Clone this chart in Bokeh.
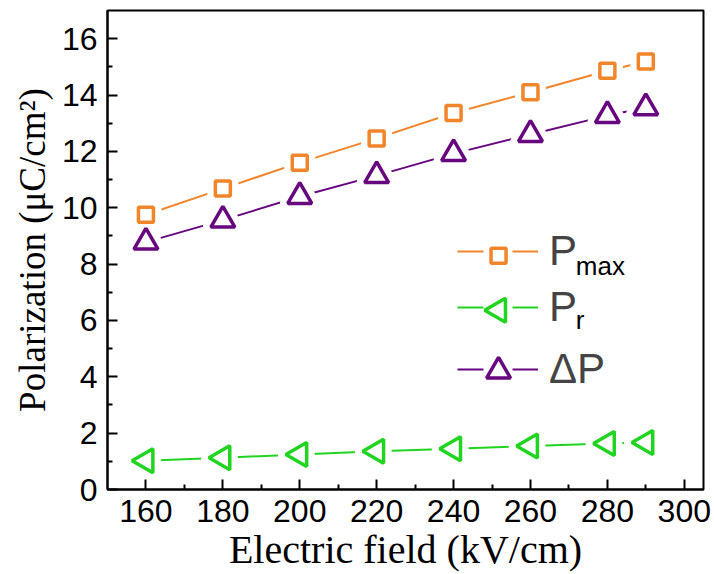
import numpy as np
from bokeh.plotting import figure
from bokeh.models import Legend, LegendItem, Label, FixedTicker, Range1d, ColumnDataSource
from bokeh.embed import file_html
from bokeh.resources import INLINE

# ---- data ----
field = [160, 180, 200, 220, 240, 260, 280, 290]
p_max = [9.75, 10.68, 11.60, 12.46, 13.36, 14.10, 14.86, 15.19]
p_r = [1.02, 1.13, 1.24, 1.36, 1.45, 1.54, 1.63, 1.67]
delta_p = [8.78, 9.56, 10.40, 11.14, 11.92, 12.60, 13.27, 13.55]

x_ticks = [160, 180, 200, 220, 240, 260, 280, 300]
x_minor = [170, 190, 210, 230, 250, 270, 290]
y_ticks = [0, 2, 4, 6, 8, 10, 12, 14, 16]
y_minor = [1, 3, 5, 7, 9, 11, 13, 15]

ORANGE = "#F0852A"
GREEN = "#20D420"
PURPLE = "#67067F"

SANS = "Liberation Sans"
SERIF = "Liberation Serif"

p = figure(width=714, height=574, x_range=Range1d(150, 305), y_range=Range1d(0, 17),
           output_backend="svg", toolbar_location=None,
           min_border_left=107, min_border_right=11, min_border_top=10, min_border_bottom=85)
p.grid.visible = False
p.outline_line_color = "black"
p.outline_line_width = 2
p.background_fill_color = "white"
p.border_fill_color = "white"

p.xaxis.ticker = FixedTicker(ticks=x_ticks, minor_ticks=x_minor)
p.yaxis.ticker = FixedTicker(ticks=y_ticks, minor_ticks=y_minor)
for ax in (p.xaxis, p.yaxis):
    ax.axis_line_width = 2
    ax.major_tick_in = 10
    ax.major_tick_out = 0
    ax.minor_tick_in = 5
    ax.minor_tick_out = 0
    ax.major_tick_line_width = 2
    ax.minor_tick_line_width = 2
    ax.major_label_text_font = SANS
    ax.major_label_text_font_size = "32px"
    ax.major_label_text_color = "black"
    ax.axis_label_text_font = SERIF
    ax.axis_label_text_font_style = "normal"
    ax.axis_label_text_color = "black"

p.xaxis.axis_label = "Electric field (kV/cm)"
p.xaxis.axis_label_text_font_size = "40px"
p.xaxis.major_label_standoff = 10
p.xaxis.axis_label_standoff = 2

p.yaxis.axis_label = "Polarization (\u03bcC/cm\u00b2)"
p.yaxis.axis_label_text_font_size = "37px"
p.yaxis.major_label_standoff = 10
p.yaxis.axis_label_standoff = 6

src = ColumnDataSource(dict(x=field, pmax=p_max, pr=p_r, dp=delta_p))

# key, colour, marker, size, rotation
series = [
    ("pmax", ORANGE, "square", 15, 0.0),
    ("pr", GREEN, "triangle", 24, np.pi / 2),
    ("dp", PURPLE, "triangle", 24, 0.0),
]

for key, col, mk, sz, ang in series:
    p.line("x", key, source=src, line_color=col, line_width=2)
for key, col, mk, sz, ang in series:
    p.scatter("x", key, source=src, marker=mk, size=sz, angle=ang,
              fill_color="white", line_color="white", line_width=16, line_join="round")
for key, col, mk, sz, ang in series:
    p.scatter("x", key, source=src, marker=mk, size=sz, angle=ang,
              fill_color="white", line_color=col, line_width=3.5)

# ---- legend: Bokeh legends (broken key line + label), symbols overlaid on the key ----
legend_rows = [
    # key, label, legend bottom offset (px from frame bottom), symbol y (data), subscript
    ("pmax", "P", 214, 8.30, "max"),
    ("pr", "P", 158, 6.36, "r"),
    ("dp", "\u0394P", 96, 4.20, None),
]
KEY_X = 251.7
SUB_X = 271.8
for (key, lab, ybot, sym_y, sub), (_, col, mk, sz, ang) in zip(legend_rows, series):
    key_src = ColumnDataSource(dict(x=[np.nan, np.nan], y=[np.nan, np.nan]))
    key_line = p.line("x", "y", source=key_src, line_color=col, line_width=2,
                      line_dash="26 29 26 200")
    lg = Legend(items=[LegendItem(label=lab, renderers=[key_line])],
                location=(350, ybot), glyph_width=81, glyph_height=44,
                label_text_font=SANS, label_text_font_size="42px", label_standoff=11,
                padding=0, margin=0, border_line_alpha=0, background_fill_alpha=0)
    p.add_layout(lg, "center")
    ksrc = ColumnDataSource(dict(x=[KEY_X], y=[sym_y]))
    p.scatter("x", "y", source=ksrc, marker=mk, size=sz, angle=ang, level="overlay",
              fill_color="white", line_color=col, line_width=3.5)
    if sub:
        base_y = sym_y - 0.36
        p.add_layout(Label(x=SUB_X, y=base_y, text=sub, text_font=SANS,
                           text_font_size="26px", text_baseline="alphabetic",
                           text_color="black"))

open("out.html", "w").write(file_html(p, INLINE))
